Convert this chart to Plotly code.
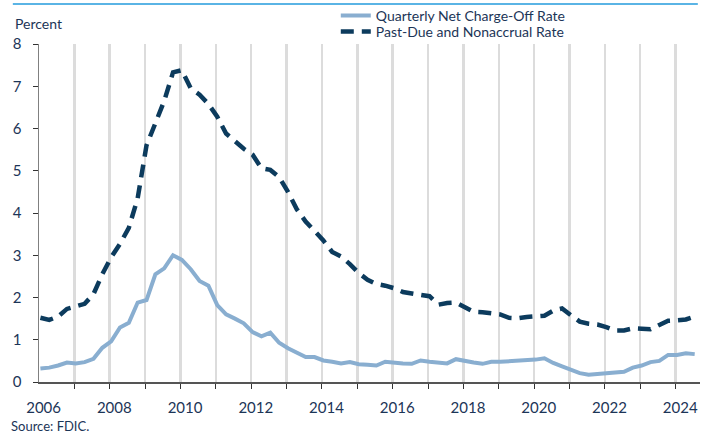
import plotly.graph_objects as go

# Quarterly observations, 2006Q1 .. 2024Q3
quarters = [f"{y}Q{q}" for y in range(2006, 2025) for q in range(1, 5)][:75]

charge_off_rate = [
    0.32, 0.34, 0.39, 0.46, 0.44, 0.47, 0.55, 0.81, 0.96, 1.29,
    1.40, 1.88, 1.94, 2.55, 2.69, 3.00, 2.89, 2.67, 2.39, 2.28,
    1.82, 1.60, 1.50, 1.39, 1.18, 1.08, 1.17, 0.93, 0.80, 0.70,
    0.59, 0.59, 0.51, 0.48, 0.44, 0.47, 0.42, 0.41, 0.39, 0.48,
    0.45, 0.44, 0.43, 0.51, 0.48, 0.46, 0.44, 0.54, 0.49, 0.46,
    0.43, 0.48, 0.48, 0.49, 0.50, 0.52, 0.53, 0.56, 0.45, 0.37,
    0.28, 0.21, 0.17, 0.19, 0.20, 0.21, 0.24, 0.34, 0.39, 0.47,
    0.50, 0.64, 0.64, 0.68, 0.66,
]

past_due_rate = [
    1.52, 1.47, 1.55, 1.73, 1.79, 1.85, 2.08, 2.55, 2.95, 3.27,
    3.65, 4.35, 5.60, 6.15, 6.65, 7.33, 7.38, 6.95, 6.80, 6.58,
    6.28, 5.88, 5.70, 5.52, 5.38, 5.06, 5.02, 4.85, 4.50, 4.09,
    3.80, 3.58, 3.35, 3.08, 2.97, 2.79, 2.58, 2.42, 2.32, 2.28,
    2.22, 2.13, 2.10, 2.07, 2.03, 1.83, 1.87, 1.88, 1.76, 1.66,
    1.65, 1.63, 1.60, 1.52, 1.51, 1.54, 1.56, 1.57, 1.69, 1.74,
    1.58, 1.43, 1.38, 1.36, 1.30, 1.22, 1.22, 1.27, 1.26, 1.25,
    1.35, 1.45, 1.46, 1.48, 1.55,
]

year_labels = ["2006", "2008", "2010", "2012", "2014", "2016", "2018", "2020", "2022", "2024"]
y_ticks = [0, 1, 2, 3, 4, 5, 6, 7, 8]

# decimal-year position of each quarter
x = [int(s[:4]) + (int(s[5]) - 1) / 4 + 0.04 for s in quarters]

FONT = "Lato, 'Source Sans Pro', sans-serif"
TXT = "#1c3557"

fig = go.Figure()
fig.add_trace(go.Scatter(
    x=x, y=charge_off_rate, mode="lines", name="Quarterly Net Charge-Off Rate",
    line=dict(color="#89aed0", width=4), legend="legend", hoverinfo="skip",
))
fig.add_trace(go.Scatter(
    x=x, y=past_due_rate, mode="lines", name="Past-Due and Nonaccrual Rate",
    line=dict(color="#0c3b5d", width=4.5, dash="13px,8px"), legend="legend2",
    hoverinfo="skip",
))

leg_common = dict(xanchor="left", yanchor="middle", bgcolor="rgba(0,0,0,0)",
                  font=dict(size=14, color=TXT), borderwidth=0)

fig.update_layout(
    width=713, height=435,
    margin=dict(l=39, r=13, t=44, b=53, autoexpand=False),
    paper_bgcolor="white", plot_bgcolor="white",
    font=dict(family=FONT, size=14, color=TXT),
    showlegend=True,
    hovermode=False,
    legend=dict(x=0.449, y=1.083, **leg_common),
    legend2=dict(x=0.449, y=1.0355, **leg_common),
    xaxis=dict(
        range=[2006, 2024.69],
        tickmode="array",
        tickvals=[int(l) + 0.13 for l in year_labels],
        ticktext=year_labels,
        ticks="outside", ticklen=5, tickcolor="rgba(0,0,0,0)",
        showgrid=False, zeroline=False,
        showline=True, linecolor="#555555", linewidth=1.5,
        tickfont=dict(size=15, color=TXT),
        ticklabelstandoff=6,
        minor=dict(tickmode="array", tickvals=list(range(2007, 2025)),
                   showgrid=True, gridcolor="#dcdcdc", gridwidth=2.5,
                   ticks="outside", ticklen=5, tickcolor="#333333", tickwidth=1),
    ),
    yaxis=dict(
        range=[0, 8],
        tickmode="array", tickvals=y_ticks, ticktext=[str(v) for v in y_ticks],
        ticks="outside", ticklen=5, tickcolor="#333333",
        showgrid=False, zeroline=False,
        showline=True, linecolor="#808080", linewidth=1.5,
        tickfont=dict(size=15, color=TXT),
        ticklabelstandoff=8,
    ),
    shapes=[dict(type="line", xref="paper", yref="paper", layer="above",
                 x0=-0.0396, x1=0.9967, y0=1.118, y1=1.118,
                 line=dict(color="#5ab4e5", width=2))],
    annotations=[
        dict(text="Percent", xref="paper", yref="paper", x=-0.0396, y=1.062,
             xanchor="left", yanchor="middle", showarrow=False,
             font=dict(size=14, color=TXT)),
        dict(text="Source: FDIC.", xref="paper", yref="paper", x=-0.046, y=-0.13,
             xanchor="left", yanchor="middle", showarrow=False,
             font=dict(size=13, color=TXT)),
    ],
)

fig.write_html("out.html",
               config={"displayModeBar": False, "staticPlot": True},
               post_script="document.body.style.margin='0';document.body.style.overflow='hidden';")
